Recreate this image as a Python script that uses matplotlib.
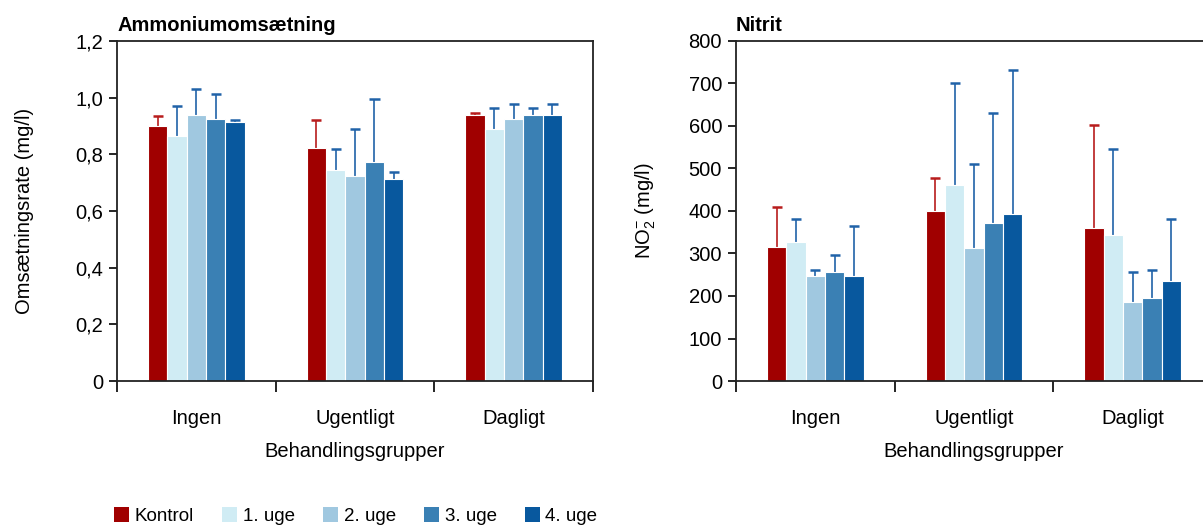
import matplotlib.pyplot as plt
import numpy as np
from matplotlib.patches import Patch

plt.rcParams['font.family'] = ['Liberation Sans', 'DejaVu Sans']
plt.rcParams['mathtext.default'] = 'regular'

# data
grupper = ['Ingen', 'Ugentligt', 'Dagligt']
serier = ['Kontrol', '1. uge', '2. uge', '3. uge', '4. uge']
farver = ['#a00000', '#d0ecf4', '#a0c8e0', '#3a80b4', '#08589e']
fejl_farver = ['#b81c1c', '#2062a8', '#2062a8', '#2062a8', '#2062a8']

# ammoniumomsætning (mg/l) - middel og øvre fejlgrænse
amm_middel = [
    [0.900, 0.821, 0.938],
    [0.866, 0.745, 0.889],
    [0.938, 0.725, 0.925],
    [0.925, 0.773, 0.938],
    [0.913, 0.712, 0.938],
]
amm_top = [
    [0.934, 0.921, 0.946],
    [0.970, 0.818, 0.964],
    [1.031, 0.891, 0.977],
    [1.012, 0.994, 0.964],
    [0.921, 0.739, 0.977],
]

# nitrit (mg/l)
nit_middel = [
    [315, 400, 359],
    [327, 460, 344],
    [247, 312, 187],
    [256, 372, 195],
    [247, 392, 235],
]
nit_top = [
    [410, 478, 603],
    [381, 700, 547],
    [261, 511, 257],
    [297, 631, 261],
    [365, 732, 382],
]

FS = 14.5


def tegn_panel(ax, middel, top, yticks, ylabels, titel, ylabel, ypad):
    x = np.arange(len(grupper)) + 0.5
    b = 0.122
    cap = 0.032
    for i in range(len(serier)):
        m = np.array(middel[i])
        t = np.array(top[i])
        pos = x + (i - 2) * b
        ax.bar(pos, m, width=b, color=farver[i], edgecolor='white', linewidth=0.8, zorder=2)
        # kun øvre fejlgrænse
        ax.vlines(pos, m, t, color=fejl_farver[i], linewidth=1.2, zorder=1)
        ax.hlines(t, pos - cap, pos + cap, color=fejl_farver[i], linewidth=1.8, zorder=1)
    ax.set_xlim(0, 3)
    ax.set_ylim(yticks[0], yticks[-1])
    ax.set_yticks(yticks)
    ax.set_yticklabels(ylabels)
    ax.set_xticks([0, 1, 2, 3])
    ax.set_xticklabels([])
    ax.set_xticks(x, minor=True)
    ax.set_xticklabels(grupper, minor=True)
    ax.tick_params(axis='x', which='major', length=8, width=1.2, direction='out')
    ax.tick_params(axis='x', which='minor', length=0, pad=20, labelsize=FS)
    ax.tick_params(axis='y', length=6, width=1.2, labelsize=FS, pad=4)
    for s in ax.spines.values():
        s.set_color('#222222')
        s.set_linewidth(1.3)
    ax.set_xlabel('Behandlingsgrupper', fontsize=FS, labelpad=10)
    ax.set_ylabel(ylabel, fontsize=FS, labelpad=ypad)
    ax.set_title(titel, loc='left', fontsize=FS, fontweight='bold', pad=7)


fig = plt.figure(figsize=(12.03, 5.28), dpi=100)
ax1 = fig.add_axes([0.0973, 0.2784, 0.3957, 0.644])
ax2 = fig.add_axes([0.6118, 0.2784, 0.3957, 0.644])

tegn_panel(ax1, amm_middel, amm_top, [0, 0.2, 0.4, 0.6, 0.8, 1.0, 1.2],
           ['0', '0,2', '0,4', '0,6', '0,8', '1,0', '1,2'],
           'Ammoniumomsætning', 'Omsætningsrate (mg/l)', 30)
nit_ticks = [0, 100, 200, 300, 400, 500, 600, 700, 800]
tegn_panel(ax2, nit_middel, nit_top, nit_ticks, [str(v) for v in nit_ticks],
           'Nitrit', 'NO$_2^{-}$ (mg/l)', 22)

handles = [Patch(facecolor=c, edgecolor='none') for c in farver]
fig.legend(handles, serier, loc='lower left', bbox_to_anchor=(0.081, -0.026), ncol=5,
           frameon=False, fontsize=13.5, handlelength=0.8, handleheight=0.8,
           handletextpad=0.3, columnspacing=1.5)

fig.savefig('out.png', dpi=100)
